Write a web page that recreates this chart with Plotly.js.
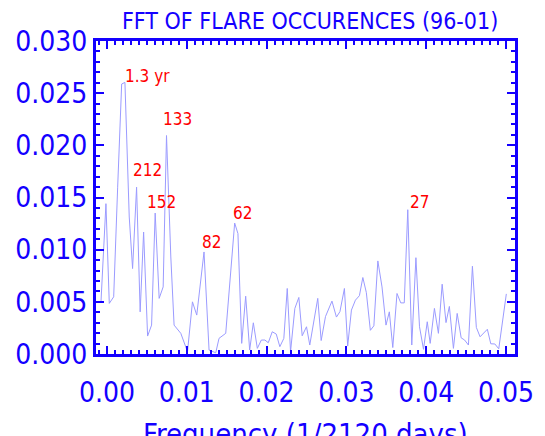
<!DOCTYPE html>
<html>
<head>
<meta charset="utf-8">
<script src="https://cdn.plot.ly/plotly-3.0.1.min.js"></script>
<style>
  html, body { margin: 0; padding: 0; background: #fff; }
  #chart { width: 545px; height: 436px; }
</style>
</head>
<body>
<div id="chart"></div>
<script>
"use strict";

// frequency (1/day) of each vertex of the spectrum
var freq = [
    -0.00075, -0.00013, 0.00029, 0.00084, 0.00134, 0.00184, 0.00225, 0.00279, 0.00321, 0.00371,
    0.00416, 0.00459, 0.00509, 0.00559, 0.00604, 0.00654, 0.00704, 0.00746, 0.00800, 0.00841,
    0.00925, 0.01009, 0.01071, 0.01125, 0.01216, 0.01279, 0.01363, 0.01404, 0.01488, 0.01600,
    0.01641, 0.01688, 0.01738, 0.01788, 0.01834, 0.01884, 0.01934, 0.01979, 0.02021, 0.02071,
    0.02121, 0.02166, 0.02216, 0.02259, 0.02300, 0.02354, 0.02404, 0.02446, 0.02500, 0.02541,
    0.02641, 0.02684, 0.02738, 0.02819, 0.02875, 0.02919, 0.02975, 0.03016, 0.03063, 0.03113,
    0.03163, 0.03206, 0.03250, 0.03300, 0.03344, 0.03394, 0.03446, 0.03496, 0.03538, 0.03581,
    0.03634, 0.03681, 0.03725, 0.03769, 0.03819, 0.03871, 0.03916, 0.03966, 0.04013, 0.04050,
    0.04103, 0.04153, 0.04200, 0.04248, 0.04290, 0.04341, 0.04388, 0.04438, 0.04481, 0.04529,
    0.04579, 0.04628, 0.04675, 0.04719, 0.04766, 0.04809, 0.04860, 0.04909, 0.05004
];

var power = [
    0.00500, 0.01441, 0.00485, 0.00548, 0.01599, 0.02588, 0.02603, 0.01313, 0.00819, 0.01599,
    0.00404, 0.01169, 0.00172, 0.00277, 0.01351, 0.00533, 0.00643, 0.02094, 0.00930, 0.00277,
    0.00198, 0.00022, 0.00500, 0.00373, 0.00978, 0.00038, 0.00012, 0.00150, 0.00198, 0.01255,
    0.01154, 0.00102, 0.00554, 0.00038, 0.00299, 0.00054, 0.00134, 0.00134, 0.00108, 0.00213,
    0.00191, 0.00070, 0.00150, 0.00628, 0.00022, 0.00437, 0.00542, 0.00175, 0.00261, 0.00086,
    0.00533, 0.00129, 0.00359, 0.00507, 0.00354, 0.00406, 0.00628, 0.00076, 0.00421, 0.00516,
    0.00559, 0.00733, 0.00588, 0.00227, 0.00270, 0.00892, 0.00643, 0.00277, 0.00404, 0.00062,
    0.00580, 0.00490, 0.00490, 0.01383, 0.00086, 0.00923, 0.00261, 0.00045, 0.00309, 0.00102,
    0.00437, 0.00198, 0.00669, 0.00301, 0.00456, 0.00054, 0.00389, 0.00155, 0.00134, 0.00086,
    0.00841, 0.00255, 0.00165, 0.00201, 0.00237, 0.00098, 0.00096, 0.00050, 0.00576
];

// period labels placed next to the peaks
var peakLabels = ["1.3 yr", "133", "212", "152", "82", "62", "27"];
var peakLabelX = [0.0020, 0.0068, 0.0030, 0.0048, 0.0116, 0.0156, 0.0377];
var peakLabelY = [0.0266, 0.0225, 0.0176, 0.0146, 0.0107, 0.0135, 0.0146];

var blue = "rgb(20,0,255)";
var narrow = "Liberation Sans Narrow, DejaVu Sans Condensed, Arial Narrow, sans-serif";

var trace = {
    x: freq,
    y: power,
    type: "scatter",
    mode: "lines",
    line: { color: "rgb(155,155,255)", width: 1 },
    hoverinfo: "skip"
};

var annotations = [];
for (var i = 0; i < peakLabels.length; i++) {
    annotations.push({
        x: peakLabelX[i], y: peakLabelY[i],
        xref: "x", yref: "y",
        text: peakLabels[i],
        showarrow: false,
        xanchor: "left", yanchor: "middle",
        font: { family: narrow, size: 17, color: "rgb(255,0,0)" }
    });
}
annotations.push({
    x: 0.5, y: -0.196, xref: "paper", yref: "paper",
    text: "Frequency (1/2120 days)",
    showarrow: false,
    xanchor: "center", yanchor: "top",
    font: { family: narrow, size: 29, color: blue }
});

function axisStyle(extra) {
    var a = {
        showline: true, linecolor: blue, linewidth: 3,
        mirror: "ticks",
        ticks: "inside", ticklen: 8, tickwidth: 2, tickcolor: blue,
        showgrid: false, zeroline: false,
        tickfont: { family: narrow, size: 28, color: blue }
    };
    for (var k in extra) { a[k] = extra[k]; }
    return a;
}

var layout = {
    width: 545, height: 436,
    margin: { l: 96, r: 30, t: 41, b: 82 },
    paper_bgcolor: "#fff", plot_bgcolor: "#fff",
    showlegend: false,
    title: {
        text: "FFT OF FLARE OCCURENCES (96-01)",
        font: { family: narrow, size: 23, color: blue },
        x: 0.569, xanchor: "center",
        y: 0.97, yanchor: "top"
    },
    xaxis: axisStyle({
        range: [-0.001375, 0.051125],
        tick0: 0, dtick: 0.01, tickformat: ".2f",
        ticklabelstandoff: 11,
        minor: { dtick: 0.001, ticks: "inside", ticklen: 4, tickwidth: 2, tickcolor: blue }
    }),
    yaxis: axisStyle({
        range: [0, 0.030],
        tick0: 0, dtick: 0.005, tickformat: ".3f",
        ticklabelstandoff: 0,
        minor: { dtick: 0.001, ticks: "inside", ticklen: 4, tickwidth: 2, tickcolor: blue }
    }),
    annotations: annotations
};

Plotly.newPlot("chart", [trace], layout, { displayModeBar: false, staticPlot: true });
</script>
</body>
</html>
